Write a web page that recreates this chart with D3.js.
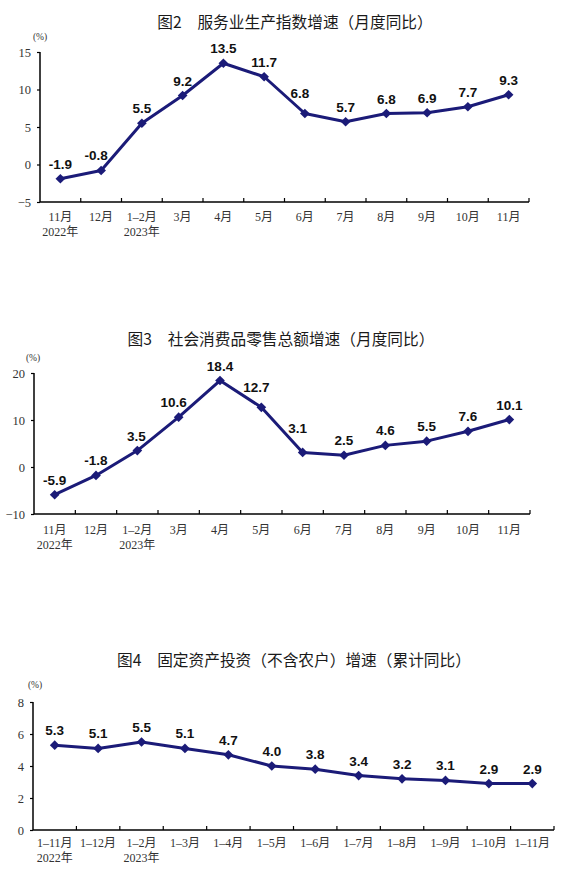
<!DOCTYPE html>
<html>
<head>
<meta charset="utf-8">
<script src="https://cdn.jsdelivr.net/npm/d3@7"></script>
<style>
  body { margin: 0; background: #fff; }
  svg { display: block; }
</style>
</head>
<body>
<svg id="chart" width="571" height="875"></svg>
<script>
// chart data
var monthCats = ['11月', '12月', '1-2月', '3月', '4月', '5月', '6月', '7月', '8月', '9月', '10月', '11月'];
var cumCats = ['1-11月', '1-12月', '1-2月', '1-3月', '1-4月', '1-5月', '1-6月', '1-7月', '1-8月', '1-9月', '1-10月', '1-11月'];
var yearLabels = ['2022年', '', '2023年', '', '', '', '', '', '', '', '', ''];

var serviceValues = [-1.9, -0.8, 5.5, 9.2, 13.5, 11.7, 6.8, 5.7, 6.8, 6.9, 7.7, 9.3];
var retailValues = [-5.9, -1.8, 3.5, 10.6, 18.4, 12.7, 3.1, 2.5, 4.6, 5.5, 7.6, 10.1];
var investValues = [5.3, 5.1, 5.5, 5.1, 4.7, 4.0, 3.8, 3.4, 3.2, 3.1, 2.9, 2.9];

var serviceTicks = [-5, 0, 5, 10, 15];
var retailTicks = [-10, 0, 10, 20];
var investTicks = [0, 2, 4, 6, 8];

var titles = [
  '图2\u3000服务业生产指数增速（月度同比）',
  '图3\u3000社会消费品零售总额增速（月度同比）',
  '图4\u3000固定资产投资（不含农户）增速（累计同比）'
];

var lineColor = '#1b1b78';
var serif = '"Liberation Serif", "Times New Roman", "Noto Sans CJK SC", serif';
var svg = d3.select('#chart');
var fmt = d => d3.format('.1f')(d).replace('\u2212', '-');

var charts = [
  { cats: monthCats, values: serviceValues, ticks: serviceTicks, domain: [-5, 15],
    title: titles[0], titleX: 295, titleY: 28, left: 40, right: 529, top: 52, bottom: 202,
    unitX: 40, unitY: 40, labelOff: 19 },
  { cats: monthCats, values: retailValues, ticks: retailTicks, domain: [-10, 20],
    title: titles[1], titleX: 281, titleY: 345, left: 34, right: 530, top: 373, bottom: 514,
    unitX: 33, unitY: 361, labelOff: 20 },
  { cats: cumCats, values: investValues, ticks: investTicks, domain: [0, 8],
    title: titles[2], titleX: 294, titleY: 666, left: 33, right: 554, top: 702, bottom: 830,
    unitX: 35, unitY: 688, labelOff: 17 }
];

// does the polyline pass through the box?
function hitsLine(pts, x0, x1, y0, y1) {
  for (var k = 0; k < pts.length - 1; k++) {
    var a = pts[k], b = pts[k + 1];
    var lo = Math.max(x0, a[0]), hi = Math.min(x1, b[0]);
    if (lo > hi) continue;
    var ya = a[1] + (b[1] - a[1]) * (lo - a[0]) / (b[0] - a[0]);
    var yb = a[1] + (b[1] - a[1]) * (hi - a[0]) / (b[0] - a[0]);
    if (Math.max(ya, yb) + 1.5 >= y0 && Math.min(ya, yb) - 1.5 <= y1) return true;
  }
  return false;
}

charts.forEach(function(c) {
  var g = svg.append('g');
  var idx = d3.range(c.cats.length);

  var xScale = d3.scaleBand()
    .domain(idx)
    .range([c.left, c.right])
    .padding(0);

  var yScale = d3.scaleLinear()
    .domain(c.domain)
    .range([c.bottom, c.top]);

  var cx = i => xScale(i) + xScale.bandwidth() / 2;

  // title
  g.append('text')
    .attr('x', c.titleX)
    .attr('y', c.titleY)
    .attr('text-anchor', 'middle')
    .attr('font-family', '"Noto Sans CJK SC", sans-serif')
    .attr('font-size', 15.7)
    .attr('fill', '#1a1a1a')
    .text(c.title);

  // unit
  g.append('text')
    .attr('x', c.unitX)
    .attr('y', c.unitY)
    .attr('text-anchor', 'middle')
    .attr('font-family', serif)
    .attr('font-size', 9.5)
    .attr('fill', '#333')
    .text('(%)');

  // y axis
  var yAxis = g.append('g')
    .attr('transform', 'translate(' + c.left + ',0)')
    .call(d3.axisLeft(yScale)
      .tickValues(c.ticks)
      .tickSize(3)
      .tickPadding(6)
      .tickFormat(d => d < 0 ? '\u2212' + Math.abs(d) : d));
  yAxis.select('.domain').attr('stroke', '#000').attr('stroke-width', 1.5)
    .attr('d', 'M0,' + c.top + 'V' + c.bottom);
  yAxis.selectAll('.tick line').attr('stroke', '#000').attr('stroke-width', 1.2);
  yAxis.selectAll('.tick text')
    .attr('font-family', serif)
    .attr('font-size', 12.5)
    .attr('fill', '#333');

  // x axis line + boundary ticks
  g.append('line')
    .attr('x1', c.left).attr('x2', c.right)
    .attr('y1', c.bottom).attr('y2', c.bottom)
    .attr('stroke', '#000').attr('stroke-width', 1.5);

  g.selectAll('.xtick')
    .data(idx)
    .enter().append('line')
    .attr('x1', d => xScale(d) + xScale.bandwidth())
    .attr('x2', d => xScale(d) + xScale.bandwidth())
    .attr('y1', c.bottom)
    .attr('y2', c.bottom - 4)
    .attr('stroke', '#000')
    .attr('stroke-width', 1.2);

  // x labels
  g.selectAll('.xlab')
    .data(idx)
    .enter().append('text')
    .attr('x', cx)
    .attr('y', c.bottom + c.labelOff)
    .attr('text-anchor', 'middle')
    .attr('font-family', serif)
    .attr('font-size', 12)
    .attr('fill', '#333')
    .text(d => c.cats[d].replace('-', '\u2013'));

  g.selectAll('.ylab')
    .data(idx.filter(d => yearLabels[d]))
    .enter().append('text')
    .attr('x', cx)
    .attr('y', c.bottom + c.labelOff + 15)
    .attr('text-anchor', 'middle')
    .attr('font-family', serif)
    .attr('font-size', 12)
    .attr('fill', '#333')
    .text(d => yearLabels[d]);

  // line
  var pts = c.values.map((d, i) => [cx(i), yScale(d)]);

  g.append('path')
    .datum(pts)
    .attr('d', d3.line())
    .attr('fill', 'none')
    .attr('stroke', lineColor)
    .attr('stroke-width', 3)
    .attr('stroke-linejoin', 'round');

  var symbol = d3.symbol().type(d3.symbolDiamond2).size(60);
  g.selectAll('.pt')
    .data(pts)
    .enter().append('path')
    .attr('d', symbol)
    .attr('transform', d => 'translate(' + d[0] + ',' + d[1] + ')')
    .attr('fill', lineColor);

  // value labels, nudged left / up if they sit on the line
  g.selectAll('.val')
    .data(c.values)
    .enter().append('text')
    .attr('text-anchor', 'middle')
    .attr('font-family', '"Liberation Sans", Arial, sans-serif')
    .attr('font-weight', 'bold')
    .attr('font-size', 13.5)
    .attr('fill', '#111')
    .text(fmt)
    .each(function(d, i) {
      var w = this.getComputedTextLength();
      var x = pts[i][0], base = pts[i][1] - 10, dx = 0;
      var clash = (xx, bb) => hitsLine(pts, xx - w / 2, xx + w / 2, bb - 10, bb + 1);
      while (clash(x + dx, base) && dx > -5) dx -= 1;
      while (clash(x + dx, base)) base -= 1;
      d3.select(this).attr('x', x + dx).attr('y', base);
    });
});
</script>
</body>
</html>
